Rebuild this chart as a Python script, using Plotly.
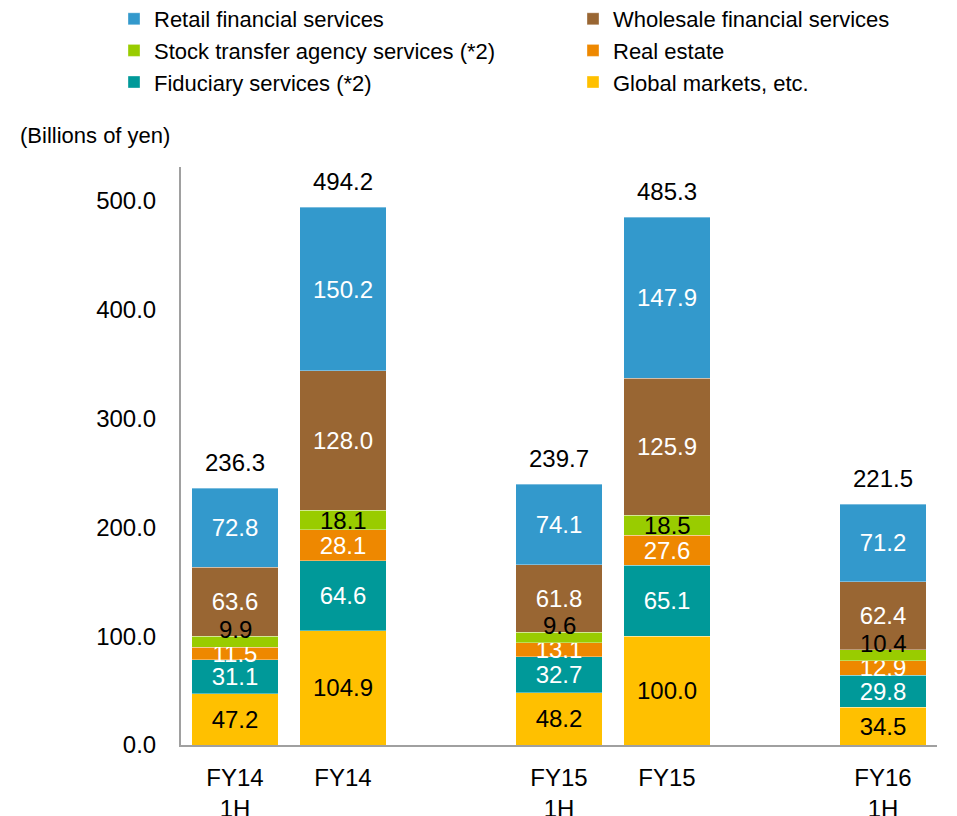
import plotly.graph_objects as go

# ---- data ----
categories = ["FY14<br>1H", "FY14", "FY15<br>1H", "FY15", "FY16<br>1H"]
axis_order = ["FY14<br>1H", "FY14", " ", "FY15<br>1H", "FY15", "  ", "FY16<br>1H"]

global_markets = [47.2, 104.9, 48.2, 100.0, 34.5]
fiduciary = [31.1, 64.6, 32.7, 65.1, 29.8]
real_estate = [11.5, 28.1, 13.1, 27.6, 12.9]
stock_transfer = [9.9, 18.1, 9.6, 18.5, 10.4]
wholesale = [63.6, 128.0, 61.8, 125.9, 62.4]
retail = [72.8, 150.2, 74.1, 147.9, 71.2]
totals = [236.3, 494.2, 239.7, 485.3, 221.5]

y_ticks = [0, 100, 200, 300, 400, 500]

FONT = "Liberation Sans, Arial, sans-serif"
FS = 24
# page body has an 8px margin, so the figure is drawn 8px smaller and offset
OFF = 8
W, H = 957 - OFF, 816 - OFF
ML, MR, MT, MB = 181 - OFF, 20, 167 - OFF, 71

series = [
    # name, values, color, label color, legend, rank
    ("Global markets, etc.", global_markets, "#FFC000", "black", "legend2", 3),
    ("Fiduciary services (*2)", fiduciary, "#009999", "white", "legend", 3),
    ("Real estate", real_estate, "#EE8800", "white", "legend2", 2),
    ("Stock transfer agency services (*2)", stock_transfer, "#99CC00", "black", "legend", 2),
    ("Wholesale financial services", wholesale, "#996633", "white", "legend2", 1),
    ("Retail financial services", retail, "#3399CC", "white", "legend", 1),
]

fig = go.Figure()
for name, vals, color, tcolor, leg, rank in series:
    is_green = vals is stock_transfer
    fig.add_trace(go.Bar(
        x=categories, y=vals, name=name,
        marker=dict(color=color, line=dict(color="rgba(255,255,255,0.35)", width=1)),
        text=None if is_green else [f"{v:.1f}" for v in vals],
        textposition="inside", insidetextanchor="middle",
        textangle=0, constraintext="none",
        textfont=dict(family=FONT, size=FS, color=tcolor),
        legend=leg, legendrank=rank, legendgroup=name,
        hoverinfo="skip",
    ))

annotations = []
for i, c in enumerate(categories):
    base = global_markets[i] + fiduciary[i] + real_estate[i]
    v = stock_transfer[i]
    annotations.append(dict(
        x=c, y=base + v / 2, xref="x", yref="y", text=f"{v:.1f}",
        showarrow=False, font=dict(family=FONT, size=FS, color="black"),
        yshift=12 if v < 15 else 0,
    ))
    annotations.append(dict(
        x=c, y=totals[i], xref="x", yref="y", text=f"{totals[i]:.1f}",
        showarrow=False, yanchor="bottom", yshift=10,
        font=dict(family=FONT, size=FS, color="black"),
    ))

pw = W - ML - MR
ph = H - MT - MB
annotations.append(dict(
    x=(18 - OFF - ML) / pw, y=(H - MB - (135 - OFF)) / ph, xref="paper", yref="paper",
    text="(Billions of yen)", showarrow=False, xanchor="left", yanchor="middle",
    font=dict(family=FONT, size=22, color="black"),
))

LFS = 22
LEG_TOP = -OFF - 2  # legend top, px from the figure top
leg_common = dict(
    yref="paper", xref="container", xanchor="left", yanchor="top",
    orientation="v", traceorder="grouped", tracegroupgap=0,
    font=dict(family=FONT, size=LFS), itemwidth=30, bgcolor="rgba(0,0,0,0)",
)

fig.update_layout(
    width=W, height=H,
    margin=dict(l=ML, r=MR, t=MT, b=MB, autoexpand=False),
    barmode="stack", bargap=0.2,
    plot_bgcolor="white", paper_bgcolor="white",
    font=dict(family=FONT, size=FS, color="black"),
    xaxis=dict(
        type="category", categoryorder="array", categoryarray=axis_order,
        range=[-0.5, 6.5], showline=True, linecolor="#A0A0A0", linewidth=2,
        ticks="", showgrid=False, tickfont=dict(size=FS), ticklabelstandoff=10,
    ),
    yaxis=dict(
        range=[0, 531], tickvals=y_ticks, tickformat=".1f",
        showline=True, linecolor="#A0A0A0", linewidth=2,
        ticks="", showgrid=False, zeroline=False,
        tickfont=dict(size=FS), ticklabelstandoff=18,
    ),
    legend=dict(x=(114 - OFF) / W, y=1 + (MT - LEG_TOP) / ph, **leg_common),
    legend2=dict(x=(573 - OFF) / W, y=1 + (MT - LEG_TOP) / ph, **leg_common),
    annotations=annotations,
    showlegend=True,
)

fig.write_html("out.html")
